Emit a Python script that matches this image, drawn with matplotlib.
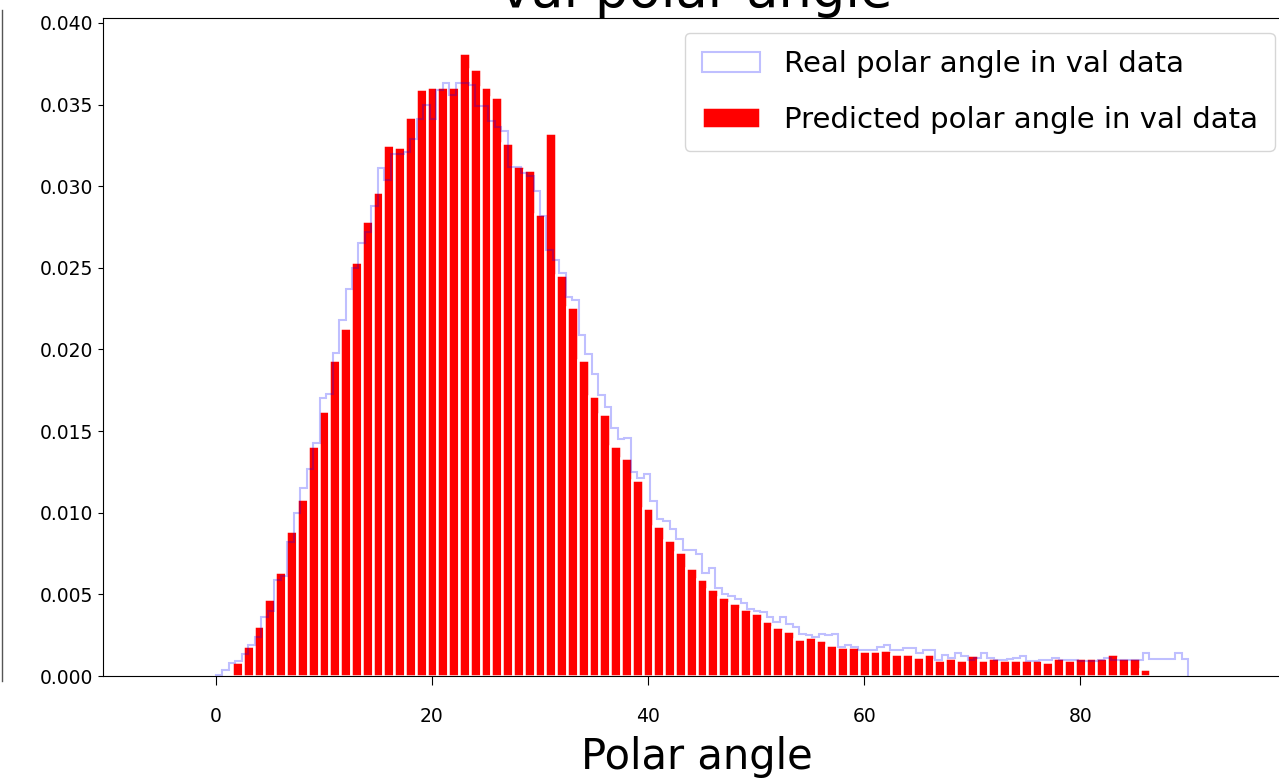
from matplotlib import pyplot as plt
from matplotlib.lines import Line2D
import numpy as np

# predicted polar angle, density per 1-degree bin (bins centred on 1..86)
pred_centers = np.arange(1, 87)
pred_density = [
    0.00013, 0.00088, 0.00185, 0.00308, 0.00469, 0.00640, 0.00886, 0.01085, 0.01406, 0.01626,
    0.01934, 0.02129, 0.02536, 0.02785, 0.02967, 0.03251, 0.03240, 0.03423, 0.03597, 0.03610,
    0.03610, 0.03610, 0.03816, 0.03717, 0.03610, 0.03546, 0.03262, 0.03125, 0.03101, 0.02831,
    0.03323, 0.02455, 0.02259, 0.01938, 0.01715, 0.01605, 0.01411, 0.01338, 0.01200, 0.01030,
    0.00918, 0.00833, 0.00758, 0.00663, 0.00594, 0.00533, 0.00482, 0.00446, 0.00412, 0.00385,
    0.00337, 0.00300, 0.00274, 0.00225, 0.00239, 0.00223, 0.00189, 0.00175, 0.00175, 0.00152,
    0.00152, 0.00162, 0.00138, 0.00138, 0.00114, 0.00138, 0.00101, 0.00111, 0.00101, 0.00126,
    0.00101, 0.00111, 0.00101, 0.00101, 0.00101, 0.00101, 0.00087, 0.00111, 0.00101, 0.00111,
    0.00111, 0.00111, 0.00138, 0.00111, 0.00111, 0.00041,
]

# real polar angle, density over 150 bins between 0 and 90
real_edges = np.linspace(0, 90, 151)
real_density = [
    0.00006, 0.00036, 0.00077, 0.00090, 0.00138, 0.00189, 0.00239, 0.00360, 0.00400, 0.00590,
    0.00610, 0.00820, 0.01000, 0.01150, 0.01270, 0.01430, 0.01700, 0.01730, 0.01980, 0.02180,
    0.02370, 0.02500, 0.02650, 0.02720, 0.02880, 0.03110, 0.03040, 0.03200, 0.03200, 0.03210,
    0.03290, 0.03410, 0.03500, 0.03410, 0.03590, 0.03630, 0.03560, 0.03630, 0.03630, 0.03620,
    0.03490, 0.03490, 0.03400, 0.03360, 0.03340, 0.03120, 0.03120, 0.03080, 0.03060, 0.02970,
    0.02820, 0.02610, 0.02550, 0.02470, 0.02320, 0.02300, 0.02090, 0.01970, 0.01850, 0.01720,
    0.01650, 0.01520, 0.01450, 0.01460, 0.01250, 0.01210, 0.01240, 0.01070, 0.00960, 0.00950,
    0.00900, 0.00840, 0.00770, 0.00770, 0.00750, 0.00630, 0.00660, 0.00540, 0.00500, 0.00490,
    0.00470, 0.00450, 0.00410, 0.00400, 0.00390, 0.00360, 0.00330, 0.00360, 0.00320, 0.00300,
    0.00260, 0.00250, 0.00240, 0.00260, 0.00250, 0.00260, 0.00180, 0.00190, 0.00180, 0.00160,
    0.00160, 0.00160, 0.00180, 0.00190, 0.00160, 0.00160, 0.00170, 0.00170, 0.00140, 0.00160,
    0.00160, 0.00100, 0.00130, 0.00110, 0.00140, 0.00120, 0.00100, 0.00110, 0.00140, 0.00110,
    0.00100, 0.00100, 0.00105, 0.00110, 0.00120, 0.00090, 0.00090, 0.00100, 0.00100, 0.00110,
    0.00100, 0.00097, 0.00097, 0.00090, 0.00090, 0.00090, 0.00100, 0.00110, 0.00097, 0.00097,
    0.00097, 0.00097, 0.00097, 0.00140, 0.00105, 0.00105, 0.00105, 0.00105, 0.00140, 0.00105,
]
real_centers = (real_edges[:-1] + real_edges[1:]) / 2

fig = plt.figure(figsize=(12.79, 7.82), dpi=100)
ax = fig.add_axes([0.0805, 0.1355, 0.928, 0.8415])

ax.hist(real_centers, bins=real_edges, weights=real_density, histtype='step',
        color='blue', alpha=0.25, linewidth=1.5, zorder=3,
        label='Real polar angle in val data')
ax.bar(pred_centers, pred_density, width=1.0, color='red', edgecolor='white',
       linewidth=1.8, label='Predicted polar angle in val data')

ax.set_xlim(-10.45, 99.4)
ax.set_ylim(0, 0.0403)
ax.set_xticks([0, 20, 40, 60, 80])
ax.set_yticks(np.arange(0, 0.0401, 0.005))
ax.tick_params(labelsize=13.5)
ax.tick_params(axis='x', length=6.5, pad=16)
ax.spines['right'].set_visible(False)

ax.set_title('val polar angle', fontsize=38)
ax.set_xlabel('Polar angle', fontsize=30, labelpad=7)
ax.legend(loc='upper right', fontsize=21, borderpad=0.6, labelspacing=0.95)

# edge of the neighbouring panel on the left
fig.add_artist(Line2D([1.5 / 1279, 1.5 / 1279], [1 - 681 / 782, 1 - 10 / 782],
                      color='#555555', linewidth=1.0))

plt.savefig('out.png', dpi=100)
